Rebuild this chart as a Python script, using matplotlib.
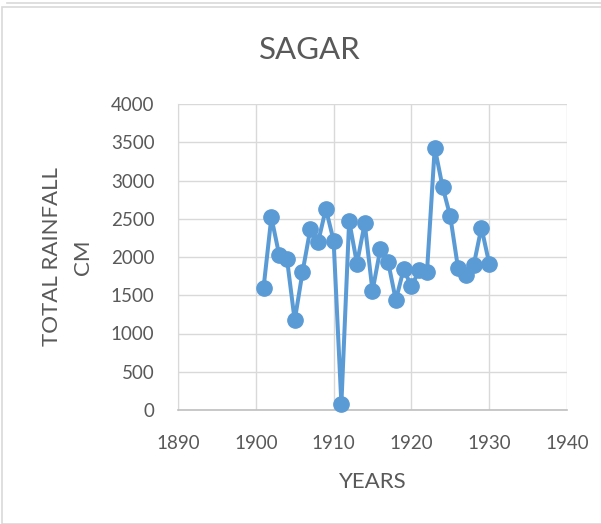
import matplotlib.pyplot as plt
from matplotlib.patches import Rectangle

years = list(range(1901, 1931))
rainfall = [1600, 2520, 2030, 1980, 1170, 1800, 2360, 2190, 2630, 2215,
            80, 2475, 1915, 2440, 1555, 2100, 1940, 1435, 1840, 1615,
            1825, 1800, 3430, 2920, 2530, 1850, 1760, 1890, 2385, 1915]

txt = '#595959'
plt.rcParams['font.family'] = ['Lato', 'DejaVu Sans']

fig = plt.figure(figsize=(6.01, 5.24), dpi=100)
W, H = 601, 524

# chart frame, as in the spreadsheet export
fig.patches.append(Rectangle((2 / W, 0), 1, 1 - 7 / H, transform=fig.transFigure,
                             fill=False, edgecolor='#D9D9D9', linewidth=1.2))
fig.lines.append(plt.Line2D([7 / W, 1], [1 - 3 / H, 1 - 3 / H], transform=fig.transFigure,
                            color='#D9D9D9', linewidth=1.2))

ax = fig.add_axes([178 / W, 1 - 410 / H, (567 - 178) / W, (410 - 104) / H])
ax.plot(years, rainfall, color='#5B9BD5', linewidth=2.9, marker='o',
        markersize=11, clip_on=False, zorder=3)

ax.set_xlim(1890, 1940)
ax.set_ylim(0, 4000)
ax.set_xticks(range(1890, 1941, 10))
ax.set_yticks(range(0, 4001, 500))
ax.grid(True, color='#D9D9D9', linewidth=1.0)
ax.set_axisbelow(True)
for s in ['top', 'right']:
    ax.spines[s].set_visible(False)
ax.spines['left'].set_color('#D9D9D9')
ax.spines['bottom'].set_color('#BFBFBF')
ax.spines['bottom'].set_linewidth(1.2)
ax.tick_params(length=0, labelsize=13.5, labelcolor=txt)
ax.tick_params(axis='y', pad=17)
ax.tick_params(axis='x', pad=18)

fig.text(310 / W, 1 - 50 / H, 'SAGAR', ha='center', va='center', fontsize=22.5, color=txt)
fig.text(373 / W, 1 - 482 / H, 'YEARS', ha='center', va='center', fontsize=16, color=txt)
fig.text(52 / W, 1 - 257 / H, 'TOTAL RAINFALL', ha='center', va='center',
         rotation=90, fontsize=16, color=txt)
fig.text(83 / W, 1 - 257 / H, 'CM', ha='center', va='center',
         rotation=90, fontsize=16, color=txt)

fig.savefig('out.png', dpi=100)
